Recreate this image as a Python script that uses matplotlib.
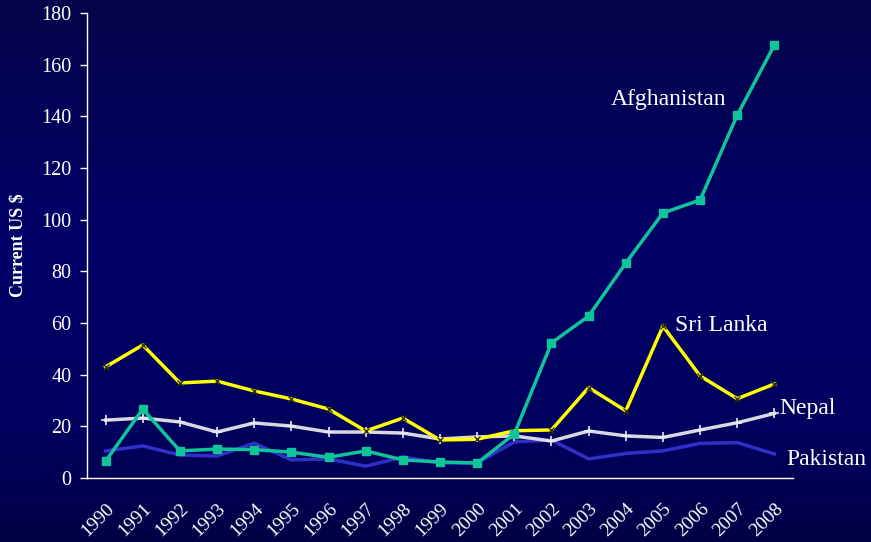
import numpy as np
import matplotlib
matplotlib.use("Agg")
import matplotlib.pyplot as plt
from matplotlib.colors import LinearSegmentedColormap

years = [str(y) for y in range(1990, 2009)]
afghanistan = [6.5, 26.7, 10.5, 11.2, 11.0, 10.0, 8.0, 10.5, 7.0, 6.2, 5.8, 17.0, 52.3, 62.7, 83.2, 102.6, 107.6, 140.5, 167.6]
sri_lanka = [43.0, 51.5, 36.8, 37.5, 33.7, 30.6, 26.7, 18.2, 23.2, 14.7, 15.0, 18.3, 18.6, 35.0, 26.0, 58.8, 39.5, 30.7, 36.4]
nepal = [22.4, 23.2, 21.7, 17.8, 21.3, 20.1, 17.8, 17.8, 17.4, 15.1, 15.9, 16.3, 14.3, 18.2, 16.3, 15.7, 18.6, 21.4, 25.0]
pakistan = [10.5, 12.4, 8.9, 8.5, 13.5, 7.0, 7.4, 4.6, 8.1, 5.8, 5.8, 14.0, 14.7, 7.4, 9.5, 10.5, 13.4, 13.7, 9.3]
yticks = [0, 20, 40, 60, 80, 100, 120, 140, 160, 180]

plt.rcParams['font.family'] = ['Liberation Serif', 'DejaVu Serif']

fig = plt.figure(figsize=(8.71, 5.42), dpi=100)
# background gradient
bg = fig.add_axes([0, 0, 1, 1], zorder=-10)
cmap = LinearSegmentedColormap.from_list('bg', [(0.0, '#05054a'), (0.45, '#000068'), (0.8, '#00005e'), (1.0, '#000045')])
grad = np.linspace(0, 1, 256).reshape(-1, 1)
bg.imshow(grad, aspect='auto', cmap=cmap, extent=[0, 1, 1, 0])
bg.axis('off')

ax = fig.add_axes([87/871, 1-478/542, (793-87)/871, (478-13)/542])
ax.patch.set_alpha(0)
x = np.arange(len(years))

ax.plot(x, pakistan, color='#3030c8', lw=2.5, zorder=2)
ax.plot(x, nepal, color='#d8d8e0', lw=2.5, marker='+', ms=7, mec='#e8e8f0', mew=1.2, zorder=3)
ax.plot(x, afghanistan, color='#10c49a', lw=2.5, marker='s', ms=5.5, mfc='#10c49a', mec='#10c49a', zorder=4)
ax.plot(x, sri_lanka, color='#ffff00', lw=2.5, marker='x', ms=5, mec='#333300', mew=1.0, zorder=3)

ax.set_xlim(-0.5, 18.5)
ax.set_ylim(0, 180)
ax.set_yticks(yticks)
ax.set_xticks(x)
ax.set_xticklabels(years, rotation=45, ha='right', rotation_mode='anchor', fontsize=14, color='white')
ax.tick_params(axis='x', length=0, pad=16)
ax.tick_params(axis='y', colors='white', labelsize=14.5, length=5, width=1, direction='out', pad=6)
for s in ['top', 'right']:
    ax.spines[s].set_visible(False)
for s in ['left', 'bottom']:
    ax.spines[s].set_color('white')
    ax.spines[s].set_linewidth(1)

ax.set_ylabel('Current US $', color='white', fontsize=13, fontweight='bold', labelpad=11)

ax.text(13.6, 146.5, 'Afghanistan', color='white', fontsize=17, va='center', ha='left')
ax.text(15.33, 59, 'Sri Lanka', color='white', fontsize=17, va='center', ha='left')
ax.text(18.13, 27, 'Nepal', color='white', fontsize=17, va='center', ha='left', clip_on=False)
ax.text(18.33, 7.2, 'Pakistan', color='white', fontsize=17, va='center', ha='left', clip_on=False)

fig.savefig('out.png', dpi=100)
